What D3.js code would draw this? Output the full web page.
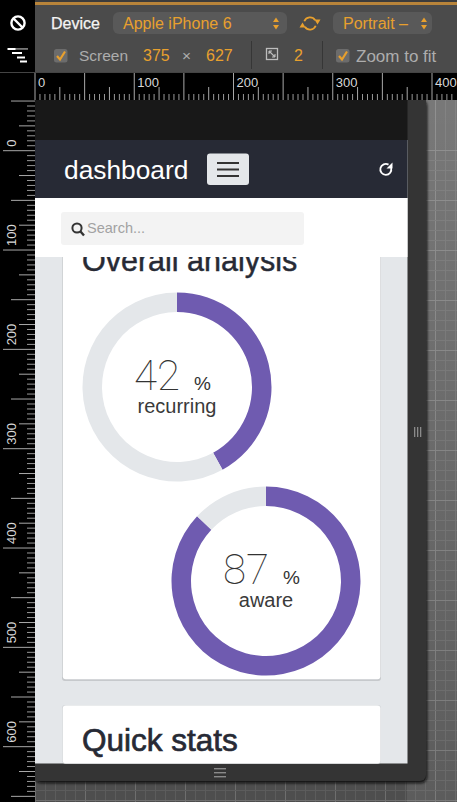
<!DOCTYPE html>
<html><head><meta charset="utf-8">
<script src="https://cdn.jsdelivr.net/npm/d3@7"></script>
<style>html,body{margin:0;padding:0;background:#000;overflow:hidden}svg{display:block}text{font-family:"Liberation Sans",Arial,sans-serif}</style>
</head><body><svg id="c" width="457" height="802"></svg>
<script>
const donutLabels = ["recurring", "aware"];
const donutValues = [42, 87];
const donutCenters = [[177, 387], [266, 581]];
const hTicks = [0, 100, 200, 300, 400];
const vTicks = [0, 100, 200, 300, 400, 500, 600];
const svg = d3.select("#c");
const rect = (x, y, w, h, f, r) => svg.append("rect").attr("x", x).attr("y", y).attr("width", w).attr("height", h).attr("fill", f).attr("rx", r || 0);
const txt = (x, y, s, size, fill, opt = {}) => svg.append("text").attr("x", x).attr("y", y).text(s).attr("font-size", size).attr("fill", fill)
  .attr("font-weight", opt.w || 400).attr("text-anchor", opt.a || "start").style("font-family", opt.f || null);
const path = (d, stroke, sw, fill) => svg.append("path").attr("d", d).attr("stroke", stroke || "none").attr("stroke-width", sw || 0).attr("fill", fill || "none");

const defs = svg.append("defs");
const grad = defs.append("linearGradient").attr("id", "lite").attr("x1", 0).attr("x2", 0).attr("y1", 0).attr("y2", 1);
grad.append("stop").attr("offset", 0).attr("stop-color", "#fff").attr("stop-opacity", .24);
grad.append("stop").attr("offset", 1).attr("stop-color", "#fff").attr("stop-opacity", .08);
defs.append("filter").attr("id", "blur").append("feGaussianBlur").attr("stdDeviation", 1.4);

// workspace background
rect(0, 0, 457, 802, "#4e4e4e");
for (let x = 35; x < 457; x += 10) svg.append("line").attr("x1", x + .5).attr("x2", x + .5).attr("y1", 100).attr("y2", 802).attr("stroke", (x - 35) % 50 ? "#5c5c5c" : "#6e6e6e");
for (let y = 150; y < 802; y += 10) svg.append("line").attr("x1", 35).attr("x2", 457).attr("y1", y + .5).attr("y2", y + .5).attr("stroke", (y - 150) % 50 ? "#5c5c5c" : "#6e6e6e");
rect(407, 100, 50, 702, "url(#lite)");

// device frame
rect(35, 100, 392, 683, "#111", 6).attr("filter", "url(#blur)");
rect(35, 100, 391, 681, "#343434", 6);
rect(35, 100, 12, 681, "#343434");
rect(410, 100, 16, 10, "#343434");
rect(35, 100, 372.5, 40, "#181818");
rect(35, 140, 372.5, 623.5, "#e4e7ea");

// left column, rulers, toolbar
rect(0, 0, 35, 802, "#000");
rect(35, 72, 422, 28, "#000");
rect(35, 5, 422, 67, "#4b4b4b");
rect(35, 0, 422, 2, "#3c3c3c");
rect(35, 2, 422, 3, "#b8843a");
rect(0, 72, 457, 1, "#444");

const xR = d3.scaleLinear().domain([0, 425]).range([35, 35 + 425 * .9925]);
const yR = d3.scaleLinear().domain([0, 660]).range([150.7, 150.7 + 660 * .9933]);
d3.range(0, 425, 5).forEach(v => {
  const len = v % 50 === 0 ? 27 : v % 25 === 0 ? 13 : 6;
  svg.append("line").attr("x1", xR(v)).attr("x2", xR(v)).attr("y1", 100 - len).attr("y2", 100).attr("stroke", len > 6 ? "#bbb" : "#aaa").attr("stroke-width", .9);
});
d3.range(-50, 651, 5).forEach(v => {
  const len = v % 100 === 0 ? 32 : v % 50 === 0 ? 24 : v % 25 === 0 ? 16 : 8;
  svg.append("line").attr("y1", yR(v)).attr("y2", yR(v)).attr("x1", 35 - len).attr("x2", 35).attr("stroke", len > 8 ? "#bbb" : "#aaa").attr("stroke-width", .9);
});
hTicks.forEach(v => txt(xR(v) + 3, 87, v, 13, "#d8d8d8"));
vTicks.forEach(v => txt(0, 0, v, 13, "#d8d8d8").attr("transform", `translate(16,${yR(v) - 4}) rotate(-90)`));

// toolbar content
svg.append("circle").attr("cx", 18).attr("cy", 23).attr("r", 6.6).attr("fill", "none").attr("stroke", "#fff").attr("stroke-width", 2.4);
path("M13.5 18.5L22.5 27.5", "#fff", 2.4);
rect(15, 48, 13, 1.8, "#777");
[[7.5, 48, 8], [12, 52, 10], [17, 56.5, 8], [20, 60.5, 7]].forEach(d => rect(d[0], d[1], d[2], 2, "#fff"));
txt(51, 29, "Device", 16, "#f4f4f4").attr("stroke", "#f4f4f4").attr("stroke-width", .25);
rect(113, 12, 174, 22, "#595959", 6);
txt(123, 29, "Apple iPhone 6", 16, "#e8a02e");
rect(333, 12, 99, 22, "#595959", 6);
txt(343, 29, "Portrait –", 16, "#e8a02e");
[276, 424].forEach(x => {
  path(`M${x - 3} 22L${x} 17.5L${x + 3} 22Z`, null, 0, "#e8a02e");
  path(`M${x - 3} 25L${x} 29.5L${x + 3} 25Z`, null, 0, "#e8a02e");
});
const ring = d3.arc().innerRadius(5.2).outerRadius(7);
[[-1.2, 1.0], [1.94, 4.14]].forEach(a => svg.append("path").attr("d", ring({startAngle: a[0], endAngle: a[1]})).attr("transform", "translate(310,23.5)").attr("fill", "#e8a02e"));
path("M314.5 19.5h6l-3 5z", null, 0, "#e8a02e");
path("M305.5 27.5h-6l3 -5z", null, 0, "#e8a02e");
[[54, 49], [336, 49]].forEach(p => {
  rect(p[0], p[1], 13.5, 13.5, "#6c6c6c", 2.5);
  path(`M${p[0] + 3} ${p[1] + 7}l3 3.5l5 -8`, "#e8a02e", 2.2);
});
txt(79, 61, "Screen", 15.5, "#adadad");
txt(143, 61, "375", 16, "#e8a02e");
txt(182, 61, "×", 15.5, "#adadad");
txt(206, 61, "627", 16, "#e8a02e");
rect(251, 41, 1, 28, "#363636"); rect(322, 41, 1, 28, "#363636");
rect(266.5, 48.5, 11, 11, "none").attr("stroke", "#bdbdbd").attr("stroke-width", 1.3);
path("M269 51L275 57M269 51h3M269 51v3M275 57h-3M275 57v-3", "#bdbdbd", 1.1);
txt(294, 61, "2", 16, "#e8a02e");
txt(356, 62, "Zoom to fit", 17, "#adadad");

// scrollbar grips
[414, 417, 420].forEach(x => rect(x, 427, 1.3, 10, "#8a8a8a"));
[768, 772, 776].forEach(y => rect(214, y, 12, 1.4, "#8a8a8a"));

// cards
rect(62, 240, 319, 441, "#c6c9cc", 3);
rect(62.8, 240, 317.6, 439.2, "#fff", 3);
rect(62, 705, 319, 58.5, "#d5d8db", 3);
rect(62.8, 705.6, 317.6, 57.9, "#fff", 3);
txt(82, 271, "Overall analysis", 30.5, "#272a35").attr("stroke", "#272a35").attr("stroke-width", .45);
txt(82, 751, "Quick stats", 31.5, "#272a35").attr("stroke", "#272a35").attr("stroke-width", .7);

// header
rect(35, 140, 372.5, 58, "#272a35");
rect(35, 198, 372.5, 59, "#fff");
txt(64, 179, "dashboard", 26.3, "#fff");
rect(207, 153.5, 42, 31.5, "#e4e7ea", 3);
[162, 168.5, 175].forEach(y => rect(217, y, 22, 2, "#333"));
svg.append("path").attr("d", d3.arc()({innerRadius: 4.6, outerRadius: 6.4, startAngle: 1.3, endAngle: 6.8})).attr("transform", "translate(385.8,169.4)").attr("fill", "#fff");
path("M392.5 162.5v6h-6z", null, 0, "#fff");
rect(61, 212, 243, 33, "#f3f3f3", 3);
svg.append("circle").attr("cx", 77).attr("cy", 228).attr("r", 4.6).attr("fill", "none").attr("stroke", "#333").attr("stroke-width", 2);
path("M80.5 231.5L84 235.5", "#333", 2.4);
txt(87, 233, "Search...", 14.5, "#a2a2a2");

// donuts
const pie = d3.pie().sort(null);
const arc = d3.arc().innerRadius(75).outerRadius(94.5);
const color = d3.scaleOrdinal([0, 1], ["#6f5bb0", "#e4e7ea"]);
donutValues.forEach((v, i) => {
  const [cx, cy] = donutCenters[i];
  const g = svg.append("g").attr("transform", `translate(${cx},${cy})`);
  g.selectAll("path").data(pie([v, 100 - v])).join("path").attr("d", arc).attr("fill", (d, j) => color(j));
  g.append("text").attr("x", -43).attr("y", 3).text(v).attr("font-size", 42).attr("font-weight", 100).attr("fill", "#333").style("font-family", "Roboto");
  g.append("text").attr("x", 17).attr("y", 3).text("%").attr("font-size", 19).attr("fill", "#333");
  g.append("text").attr("y", 26).attr("text-anchor", "middle").attr("font-size", 20).attr("fill", "#3a3a3a").text(donutLabels[i]);
});
</script></body></html>
